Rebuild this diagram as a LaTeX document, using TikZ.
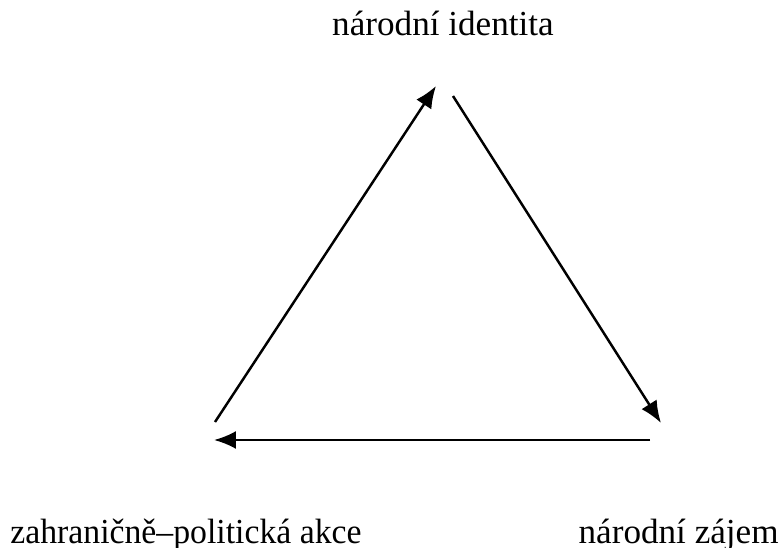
\documentclass[tikz,border=0pt]{standalone}
\usepackage{fontspec}
\setmainfont{Liberation Serif}
\usetikzlibrary{arrows.meta,positioning}

\begin{document}
\begin{tikzpicture}[x=0.02cm,y=-0.02cm,
  lbl/.style={inner sep=0pt,font=\fontsize{20}{24}\selectfont},
  arr/.style={-{Latex[length=4.4mm,width=3.6mm]},line width=1.4pt,draw=black}]
\useasboundingbox (0,0) rectangle (782,548);
\node[lbl,anchor=base] (ident) at (443,35) {národní identita};
\node[lbl,anchor=base west] (akce) at (10,543) {\scalebox{0.96}[1]{zahraničně–politická akce}};
\node[lbl,anchor=base east] (zajem) at (779,543) {národní zájem};
% triangle corners
\coordinate (l1) at (215,422); \coordinate (t1) at (436,86);
\coordinate (t2) at (453,96);  \coordinate (r1) at (661,423);
\coordinate (r2) at (650,440); \coordinate (l2) at (214,440);
\draw[arr] (l1)--(t1);
\draw[arr] (t2)--(r1);
\draw[arr] (r2)--(l2);
\end{tikzpicture}
\end{document}
